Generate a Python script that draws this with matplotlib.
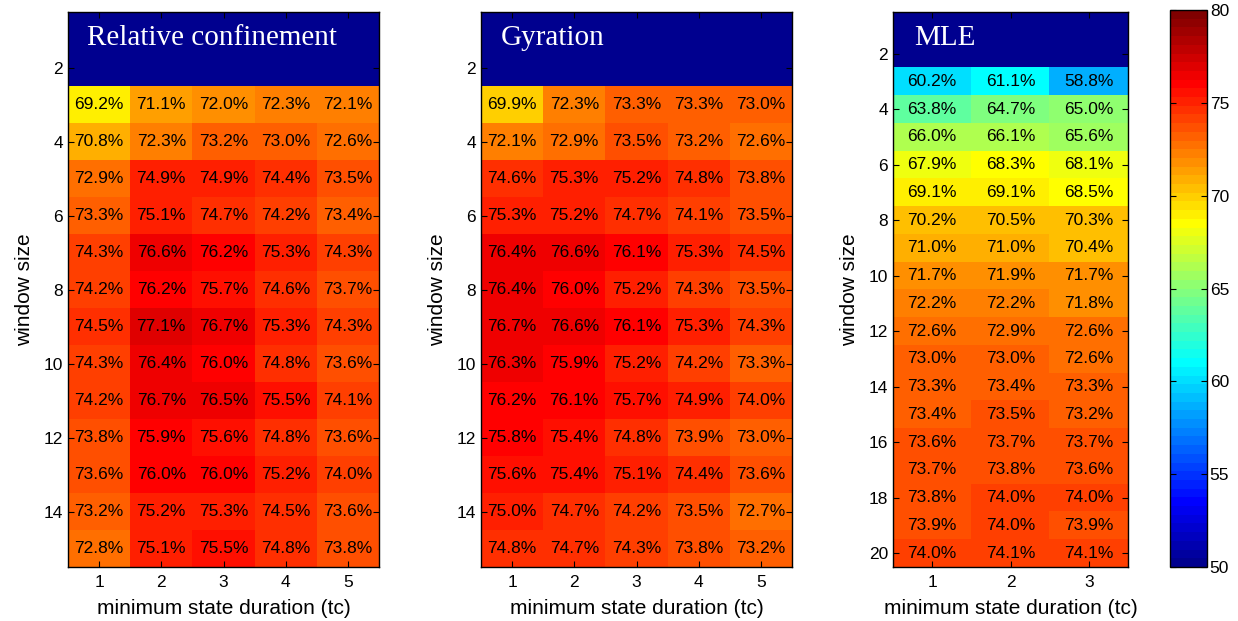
import numpy as np
import matplotlib
matplotlib.use('Agg')
from matplotlib import pyplot as plt
from matplotlib.colors import ListedColormap

plt.rcParams['font.family'] = ['Liberation Sans', 'DejaVu Sans']

# window sizes shown on each panel (rows 1-2 have no result)
window_rc = list(range(1, 16))
window_mle = list(range(1, 21))
durations_rc = [1, 2, 3, 4, 5]
durations_mle = [1, 2, 3]

# accuracy (%) per window size 3.. and minimum state duration
relative_confinement = [
    [69.2, 71.1, 72.0, 72.3, 72.1],
    [70.8, 72.3, 73.2, 73.0, 72.6],
    [72.9, 74.9, 74.9, 74.4, 73.5],
    [73.3, 75.1, 74.7, 74.2, 73.4],
    [74.3, 76.6, 76.2, 75.3, 74.3],
    [74.2, 76.2, 75.7, 74.6, 73.7],
    [74.5, 77.1, 76.7, 75.3, 74.3],
    [74.3, 76.4, 76.0, 74.8, 73.6],
    [74.2, 76.7, 76.5, 75.5, 74.1],
    [73.8, 75.9, 75.6, 74.8, 73.6],
    [73.6, 76.0, 76.0, 75.2, 74.0],
    [73.2, 75.2, 75.3, 74.5, 73.6],
    [72.8, 75.1, 75.5, 74.8, 73.8],
]
gyration = [
    [69.9, 72.3, 73.3, 73.3, 73.0],
    [72.1, 72.9, 73.5, 73.2, 72.6],
    [74.6, 75.3, 75.2, 74.8, 73.8],
    [75.3, 75.2, 74.7, 74.1, 73.5],
    [76.4, 76.6, 76.1, 75.3, 74.5],
    [76.4, 76.0, 75.2, 74.3, 73.5],
    [76.7, 76.6, 76.1, 75.3, 74.3],
    [76.3, 75.9, 75.2, 74.2, 73.3],
    [76.2, 76.1, 75.7, 74.9, 74.0],
    [75.8, 75.4, 74.8, 73.9, 73.0],
    [75.6, 75.4, 75.1, 74.4, 73.6],
    [75.0, 74.7, 74.2, 73.5, 72.7],
    [74.8, 74.7, 74.3, 73.8, 73.2],
]
mle = [
    [60.2, 61.1, 58.8],
    [63.8, 64.7, 65.0],
    [66.0, 66.1, 65.6],
    [67.9, 68.3, 68.1],
    [69.1, 69.1, 68.5],
    [70.2, 70.5, 70.3],
    [71.0, 71.0, 70.4],
    [71.7, 71.9, 71.7],
    [72.2, 72.2, 71.8],
    [72.6, 72.9, 72.6],
    [73.0, 73.0, 72.6],
    [73.3, 73.4, 73.3],
    [73.4, 73.5, 73.2],
    [73.6, 73.7, 73.7],
    [73.7, 73.8, 73.6],
    [73.8, 74.0, 74.0],
    [73.9, 74.0, 73.9],
    [74.0, 74.1, 74.1],
]


def matlab_jet(m=64):
    # same construction as MATLAB's jet(m)
    n = int(np.ceil(m / 4))
    u = np.concatenate([np.arange(1, n + 1) / n, np.ones(n - 1), np.arange(n, 0, -1) / n])
    g = int(np.ceil(n / 2)) - (1 if m % 4 == 1 else 0) + np.arange(1, len(u) + 1)
    r = g + n
    b = g - n
    J = np.zeros((m, 3))
    ok = (r >= 1) & (r <= m)
    J[r[ok] - 1, 0] = u[ok]
    ok = (g >= 1) & (g <= m)
    J[g[ok] - 1, 1] = u[ok]
    ok = (b >= 1) & (b <= m)
    J[b[ok] - 1, 2] = u[ok]
    return ListedColormap(J)


cmap = matlab_jet(64)
cmap.set_bad(cmap(0))


def draw_panel(ax, values, windows, durations, name, name_x):
    n_empty = len(windows) - len(values)
    grid = np.full((len(windows), len(durations)), np.nan)
    grid[n_empty:, :] = values
    im = ax.imshow(grid, cmap=cmap, vmin=50, vmax=80, aspect='auto',
                   interpolation='nearest',
                   extent=[durations[0] - 0.5, durations[-1] + 0.5,
                           windows[-1] + 0.5, windows[0] - 0.5])
    for i in range(n_empty, len(windows)):
        for j in range(len(durations)):
            ax.text(durations[j], windows[i], '%.1f%%' % grid[i, j],
                    ha='center', va='center', fontsize=12.5, color='black')
    ax.text(name_x, 0.953, name, transform=ax.transAxes, color='white',
            fontsize=21, family='Liberation Serif', va='center', ha='left')
    ax.set_xticks(durations)
    ax.set_yticks([w for w in windows if w % 2 == 0])
    ax.tick_params(direction='in', top=True, right=True, length=4,
                   labelsize=12.5, width=0.8)
    ax.tick_params(axis='x', pad=6)
    ax.set_xlabel('minimum state duration (tc)', fontsize=15, labelpad=6)
    ax.set_ylabel('window size', fontsize=15, labelpad=7)
    for s in ax.spines.values():
        s.set_linewidth(1.0)
    return im


fig = plt.figure(figsize=(12.38, 6.21), dpi=100)
W, H = 1238.0, 621.0
bottom = 1 - 567 / H
height = (567 - 12) / H
ax1 = fig.add_axes([68 / W, bottom, (379 - 68) / W, height])
ax2 = fig.add_axes([481 / W, bottom, (792 - 481) / W, height])
ax3 = fig.add_axes([893 / W, bottom, (1128 - 893) / W, height])
cax = fig.add_axes([1170 / W, 1 - 567 / H, (1207 - 1170) / W, (567 - 10) / H])

draw_panel(ax1, relative_confinement, window_rc, durations_rc, 'Relative confinement', 0.061)
draw_panel(ax2, gyration, window_rc, durations_rc, 'Gyration', 0.064)
im = draw_panel(ax3, mle, window_mle, durations_mle, 'MLE', 0.09)

cb = fig.colorbar(im, cax=cax, ticks=[50, 55, 60, 65, 70, 75, 80])
cb.ax.tick_params(direction='in', left=True, right=True, length=4,
                  labelsize=12.5, width=0.8, pad=2)
cb.outline.set_linewidth(1.0)

fig.savefig('out.png', dpi=100)
